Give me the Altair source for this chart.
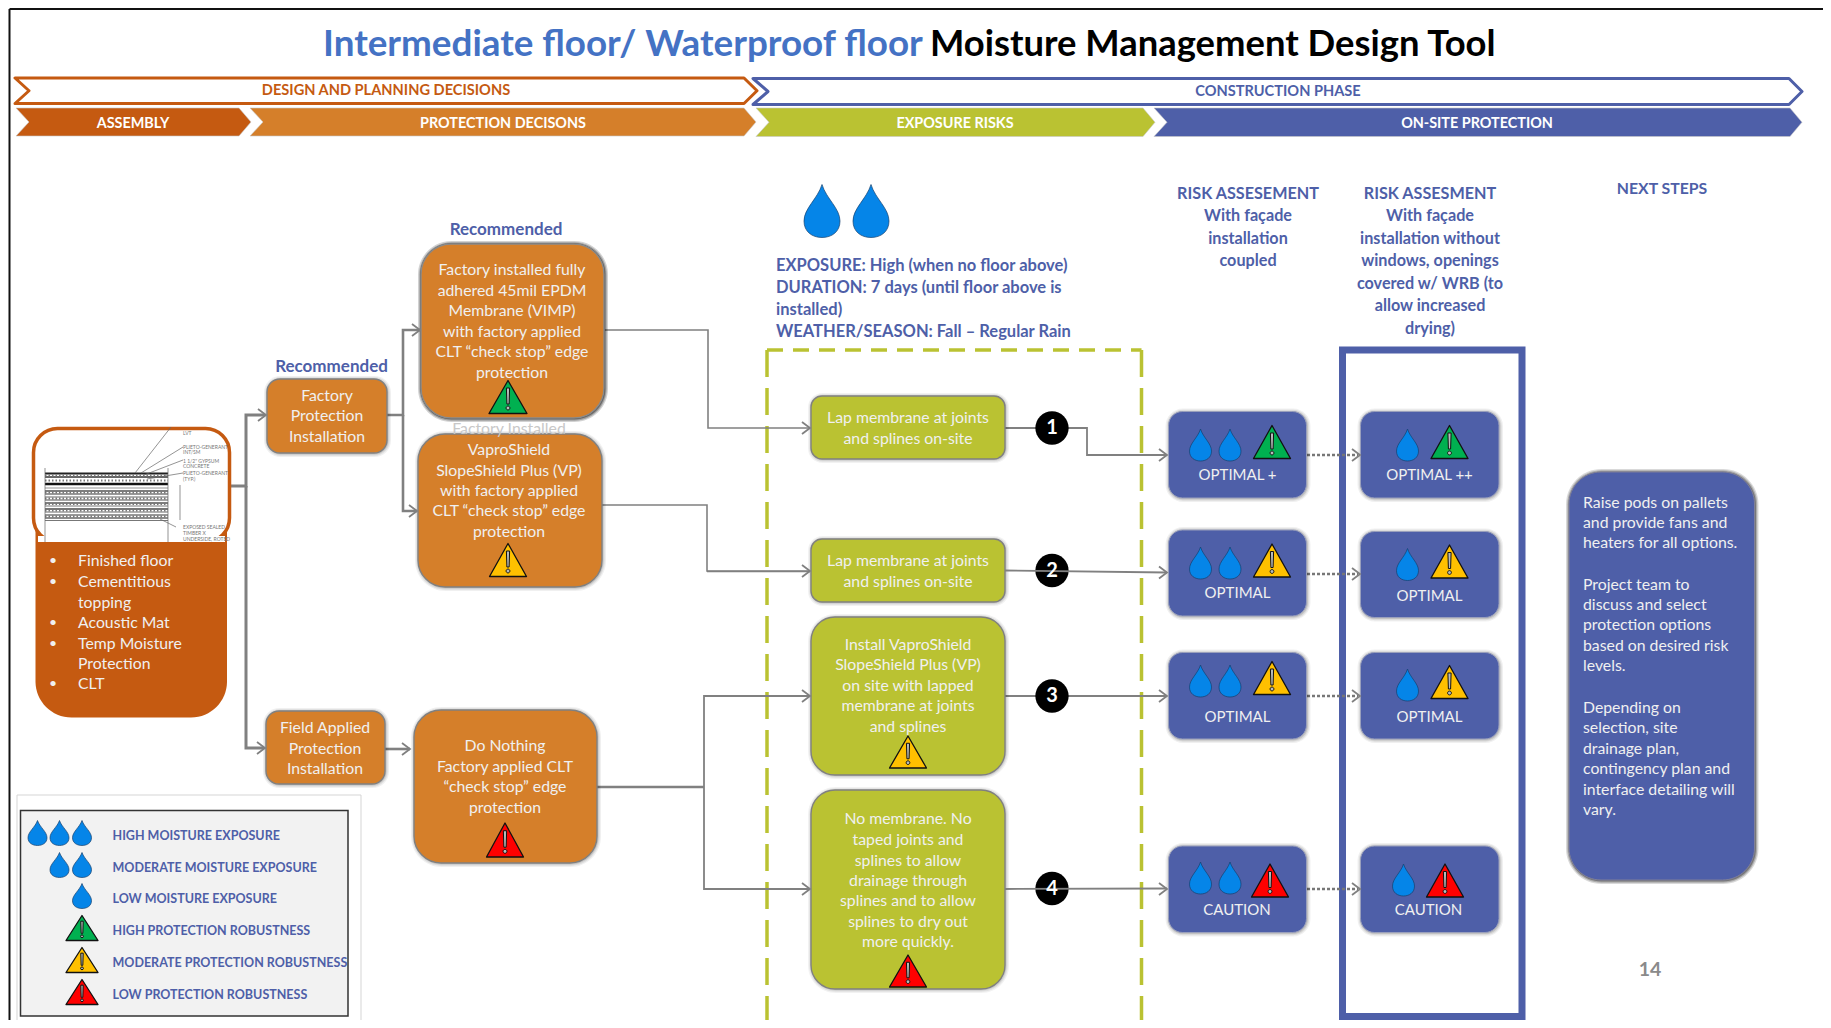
import altair as alt

# ---------- palette ----------
RUST = "#C55A11"; ORANGE = "#D57F2A"; LIME = "#BAC232"; NAVY = "#4E5FA8"; GREY = "#808080"
DROP = "#0585E8"; TXT = "#F0F0F0"; BLUE_TITLE = "#4472C4"
TRI_GREEN = "#00B050"; TRI_YELLOW = "#FFC000"; TRI_RED = "#FF0000"

# ---------- chevrons: left, right, top, bottom, notch, fill, stroke ----------
CHEVRONS_OUTLINE = [(15, 757, 78, 103.5, 14, RUST), (753, 1802, 78.5, 104.5, 15, NAVY)]
CHEVRONS_SOLID = [
    (16, 251, 108, 136, 13, RUST), (250, 756, 108, 136, 13, ORANGE),
    (756, 1155, 108, 136.5, 13, LIME), (1154, 1802, 108, 136.5, 13, NAVY)]

# ---------- rounded boxes: x, x2, y, y2, radius, fill ----------
BOX_ORANGE = [
    (421, 604, 244, 418, 30), (267, 387, 379, 453, 13), (418, 602, 434, 587, 27),
    (266, 385, 711, 784, 13), (414, 597, 710, 863, 27)]
BOX_LIME = [
    (811, 1005, 396, 459, 11), (811, 1005, 539, 602, 11),
    (811, 1005, 617, 775, 24), (811, 1005, 790, 989, 24)]
BOX_RISK = [
    (1168.5, 1306.5, 411.5, 498, 14), (1168.5, 1306.5, 530, 616, 14),
    (1168.5, 1306.5, 652.5, 739, 14), (1168.5, 1306.5, 846, 932.5, 14),
    (1360.5, 1499, 411.5, 498, 14), (1360.5, 1499, 531.5, 617.5, 14),
    (1360.5, 1499, 652.5, 739, 14), (1360.5, 1499, 846, 932.5, 14)]
BOX_NEXT = (1569, 1754.5, 472, 880, 32)
BOX_ASSEMBLY = (35.5, 227, 440, 717.5, 36)
BOX_PICTURE = (33.5, 229.5, 428.5, 542, 24)
FRAME_RISK = (1342.5, 1522, 350, 1016.5)
LEGEND_OUTER = (17, 361, 795, 1024.5)
LEGEND_INNER = (20.5, 348, 810.5, 1016)

# ---------- connectors ----------
ELBOWS = [
    ([231, 246, 246, 265], [486, 486, 415, 415], 3),
    ([246, 246, 264], [486, 748, 748], 3),
    ([387, 403, 403, 420], [415, 415, 330, 330], 2.6),
    ([403, 403, 417], [415, 511, 511], 2.6),
    ([385, 410], [749, 749], 2.6),
    ([604, 708, 708, 810], [330, 330, 428, 428], 1.6),
    ([602, 707, 707, 810], [505, 505, 571, 571], 1.6),
    ([707, 810], [571.5, 571.5], 1.6),
    ([597, 704], [787, 787], 2.6),
    ([810, 704, 704, 810], [696, 696, 889, 889], 1.8),
    ([1005, 1087, 1087, 1167], [428, 428, 455, 455], 1.8),
    ([1005, 1167], [696, 696], 1.8)]
OVER_LINES = [([1005, 1167], [570.5, 572.5], 1.8), ([1005, 1167], [889, 888.5], 1.8)]
ARROWS = [(266, 415), (265, 748), (420, 330), (417, 511), (410, 749), (810, 428), (810, 571),
          (810, 696), (810, 889), (1167, 455), (1167, 572.5), (1167, 696), (1167, 889),
          (1360, 455), (1360, 574), (1360, 696), (1360, 889)]
DASHED = [(1307, 1358, 455), (1307, 1358, 574), (1307, 1358, 696), (1307, 1358, 889)]
CIRCLE_X = 1052
CIRCLE_Y = [428, 570.5, 696, 888.5]
CIRCLE_T = ["1", "2", "3", "4"]

# ---------- drop & triangle glyphs: cx, cy, w, h ----------
DROPS = [(822, 211, 36, 53), (871, 211, 36, 53),
         (1200.5, 445, 22, 32), (1230, 445, 22, 32), (1200.5, 563, 22, 32), (1230, 563, 22, 32),
         (1200.5, 681, 22, 32), (1230, 681, 22, 32), (1200.5, 878, 22, 32), (1230, 878, 22, 32),
         (1407.5, 445, 22, 32), (1407.5, 564.5, 22, 32), (1407.5, 685, 22, 32), (1403.5, 880, 22, 32),
         (37.5, 833, 19, 25), (59.5, 833, 19, 25), (82, 833, 19, 25),
         (59.5, 865, 19, 25), (82, 865, 19, 25), (82, 896, 19, 25)]
TRIANGLES = [
    (508, 397, 38, 33, TRI_GREEN), (508, 560, 37, 33, TRI_YELLOW), (505, 840, 37, 34, TRI_RED),
    (908, 752, 37, 32, TRI_YELLOW), (908, 971, 37, 32, TRI_RED),
    (1272, 442, 37, 33, TRI_GREEN), (1272, 560.5, 37, 33, TRI_YELLOW),
    (1272, 678, 37, 33, TRI_YELLOW), (1270, 880.5, 37, 33, TRI_RED),
    (1449.5, 442, 37, 33, TRI_GREEN), (1449.5, 561.5, 37, 33, TRI_YELLOW),
    (1449.5, 682, 37, 33, TRI_YELLOW), (1445, 880.5, 37, 33, TRI_RED),
    (82, 928, 32, 25, TRI_GREEN), (82, 960, 32, 25, TRI_YELLOW), (82, 992, 32, 25, TRI_RED)]

# ---------- drawing of the floor assembly ----------
SECTION_X = (45, 168)
SECTION_RULES = [(473.5, 2.2, "#222222"), (477, 1.6, "#333333"), (484, 2.6, "#111111"),
                 (488, .8, "#777777"), (491, 1.6, "#555555"), (494, 1.6, "#777777"), (497, 1, "#666666"),
                 (500, 1.6, "#888888"), (503, 1.6, "#555555"), (506, 1, "#777777"), (509, 1.8, "#777777"),
                 (512, 1.2, "#666666"), (515, 1.4, "#777777"), (518, 1.4, "#666666"), (520.5, 1.2, "#777777")]
SECTION_HATCH = [475.5, 480.5, 492.5, 498.5, 504, 510.5, 516.5]
SECTION_LEADS = [([135, 171], [473, 427]), ([141, 183], [473, 447]), ([144, 183], [475, 460]),
                 ([147, 183], [479, 473]), ([160, 176], [519, 527]), ([45, 45], [468, 542]),
                 ([168, 168], [468, 542]), ([180, 180], [485, 520])]
SECTION_NOTES = [(183, 433, "LVT"), (183, 447, "PLIETO-GENERANT"), (183, 452, "INT/SM"),
                 (183, 461, "1 1/2\" GYPSUM"), (183, 466, "CONCRETE"),
                 (183, 473, "PLIETO-GENERANT"), (183, 479, "(TYP.)"),
                 (183, 527, "EXPOSED SEALED"), (183, 533, "TIMBER X"), (183, 539, "UNDERSIDE, ROTED")]

# ---------- text blocks: x, ys, lines, size, colour ----------
F_BODY = 15.8
F_LABEL = 15
F_HEAD = 16.2
CENTER_NORMAL = [
    (512, [270, 291, 311, 332, 352, 373],
     ["Factory installed fully", "adhered 45mil EPDM", "Membrane (VIMP)", "with factory applied",
      "CLT “check stop” edge", "protection"], F_BODY, TXT),
    (327, [396, 416, 437], ["Factory", "Protection", "Installation"], F_BODY, TXT),
    (509, [429], ["Factory Installed"], F_BODY, "#C8C8C8"),
    (509, [450, 470.5, 491, 511, 532],
     ["VaproShield", "SlopeShield Plus (VP)", "with factory applied", "CLT “check stop” edge", "protection"], F_BODY, TXT),
    (325, [727.5, 748.5, 769], ["Field Applied", "Protection", "Installation"], F_BODY, TXT),
    (505, [745.5, 766.5, 787, 807.5],
     ["Do Nothing", "Factory applied CLT", "“check stop” edge", "protection"], F_BODY, TXT),
    (908, [418, 438.5], ["Lap membrane at joints", "and splines on-site"], F_BODY, TXT),
    (908, [561, 582], ["Lap membrane at joints", "and splines on-site"], F_BODY, TXT),
    (908, [644.5, 665, 686, 706, 727],
     ["Install VaproShield", "SlopeShield Plus (VP)", "on site with lapped", "membrane at joints", "and splines"], F_BODY, TXT),
    (908, [819, 840, 860.5, 880.5, 901, 922, 942],
     ["No membrane. No", "taped joints and", "splines to allow", "drainage through", "splines and to allow",
      "splines to dry out", "more quickly."], F_BODY, TXT),
    (1237.5, [475], ["OPTIMAL +"], F_LABEL, TXT), (1237.5, [593], ["OPTIMAL"], F_LABEL, TXT),
    (1237.5, [716.5], ["OPTIMAL"], F_LABEL, TXT), (1237, [909.5], ["CAUTION"], F_LABEL, TXT),
    (1429.5, [475], ["OPTIMAL ++"], F_LABEL, TXT), (1429.5, [595.5], ["OPTIMAL"], F_LABEL, TXT),
    (1429.5, [716.5], ["OPTIMAL"], F_LABEL, TXT), (1428.5, [909.5], ["CAUTION"], F_LABEL, TXT),
]
CENTER_BOLD = [
    (386, [91], ["DESIGN AND PLANNING DECISIONS"], 14.6, RUST),
    (1278, [92], ["CONSTRUCTION PHASE"], 14.6, NAVY),
    (133, [123.5], ["ASSEMBLY"], 14.4, "#FFFFFF"), (503, [123.5], ["PROTECTION DECISONS"], 14.4, "#FFFFFF"),
    (955, [123.5], ["EXPOSURE RISKS"], 14.4, "#FFFFFF"), (1477, [123.5], ["ON-SITE PROTECTION"], 14.4, "#FFFFFF"),
    (506, [230], ["Recommended"], 17, NAVY), (331.5, [367], ["Recommended"], 17, NAVY),
    (1248, [193.5, 215.5, 238.5, 261], ["RISK ASSESEMENT", "With façade", "installation", "coupled"], F_HEAD, NAVY),
    (1430, [193.5, 215.5, 238.5, 261, 284, 306, 329],
     ["RISK ASSESMENT", "With façade", "installation without", "windows, openings",
      "covered w/ WRB (to", "allow increased", "drying)"], F_HEAD, NAVY),
    (1662, [189], ["NEXT STEPS"], 15.8, NAVY),
    (1650, [970], ["14"], 19.5, "#8A8A8A"),
]
LEFT_BOLD = [
    (776, [266, 288, 310, 332],
     ["EXPOSURE: High (when no floor above)", "DURATION: 7 days (until floor above is", "installed)",
      "WEATHER/SEASON: Fall – Regular Rain"], 16.5, NAVY),
    (112.5, [836, 868, 899, 931, 963, 995],
     ["HIGH MOISTURE EXPOSURE", "MODERATE MOISTURE EXPOSURE", "LOW MOISTURE EXPOSURE",
      "HIGH PROTECTION ROBUSTNESS", "MODERATE PROTECTION ROBUSTNESS", "LOW PROTECTION ROBUSTNESS"], 12.5, NAVY),
]
LEFT_NORMAL = [
    (78, [561, 582, 603, 623, 643.5, 664, 684],
     ["Finished floor", "Cementitious", "topping", "Acoustic Mat", "Temp Moisture", "Protection", "CLT"], F_BODY, TXT),
    (1583, [502.5, 522.5, 543, 584.5, 604.5, 625, 646, 666, 707.5, 728, 748.5, 769, 789.5, 810],
     ["Raise pods on pallets", "and provide fans and", "heaters for all options.",
      "Project team to", "discuss and select", "protection options", "based on desired risk", "levels.",
      "Depending on", "selection, site", "drainage plan,", "contingency plan and", "interface detailing will", "vary."], F_BODY, TXT),
]
BULLET_X = 53
BULLET_Y = [561, 582, 623, 643.5, 684]
TITLE_A = "Intermediate floor/ Waterproof floor"
TITLE_B = "Moisture Management Design Tool"

# ---------- helpers ----------
W, H = 1815, 1012
XS = alt.Scale(domain=[8, 1823])
YS = alt.Scale(domain=[1020, 8])
FONT = "Lato"
X = alt.X("x:Q", scale=XS, axis=None)
Y = alt.Y("y:Q", scale=YS, axis=None)
X2 = alt.X2("x2:Q")
Y2 = alt.Y2("y2:Q")


def rects(rows, radius=0):
    """rows: dict(x, x2, y, y2, fill, stroke, sw, op)"""
    return alt.Chart(alt.Data(values=rows)).mark_rect(cornerRadius=radius).encode(
        x=X, x2=X2, y=Y, y2=Y2,
        fill=alt.Fill("fill:N", scale=None), stroke=alt.Stroke("stroke:N", scale=None),
        strokeWidth=alt.StrokeWidth("sw:Q", scale=None), opacity=alt.Opacity("op:Q", scale=None))


def box(b, fill, stroke="transparent", sw=0, op=1.0, grow=0.0, dx=0.0, dy=0.0):
    return dict(x=b[0] - grow + dx, x2=b[1] + grow + dx, y=b[2] - grow + dy, y2=b[3] + grow + dy,
                fill=fill, stroke=stroke, sw=sw, op=op)


def rounded(bs, fill, stroke, sw, shadow=0.0):
    out = []
    for b in bs:
        if shadow:
            for g, o in ((3.5, .10), (2.2, .14), (1, .2)):
                out.append(rects([box(b, "#000000", op=o * shadow, grow=g, dx=.5, dy=.5)], b[4] + g))
        out.append(rects([box(b, fill, stroke, sw)], b[4]))
    return out


def glyphs(rows):
    """rows: dict(x, y, path, fill, stroke, sw)"""
    return alt.Chart(alt.Data(values=rows)).mark_point(filled=True, opacity=1, strokeJoin="round").encode(
        x=X, y=Y, shape=alt.Shape("path:N", scale=None), size=alt.value(4),
        fill=alt.Fill("fill:N", scale=None), stroke=alt.Stroke("stroke:N", scale=None),
        strokeWidth=alt.StrokeWidth("sw:Q", scale=None))


def chevron_path(w, h, n, tip):
    return f"M{-w/2},{-h/2} L{w/2-tip},{-h/2} L{w/2},0 L{w/2-tip},{h/2} L{-w/2},{h/2} L{-w/2+n},0 Z"


def drop_path(w, h):
    a, b = w / 2, h / 2
    return (f"M0,{-b} C{a*.25},{-b*.45} {a},{-b*.1} {a},{b*.38} C{a},{b*.78} {a*.55},{b} 0,{b} "
            f"C{-a*.55},{b} {-a},{b*.78} {-a},{b*.38} C{-a},{-b*.1} {-a*.25},{-b*.45} 0,{-b} Z")


def tri_path(w, h):
    return f"M0,{-h/2} L{w/2},{h/2} L{-w/2},{h/2} Z"


def bang_path(h):
    u = h / 33
    return (f"M{-1.6*u},{-9*u} L{1.6*u},{-9*u} L{1.1*u},{7*u} L{-1.1*u},{7*u} Z "
            f"M{1.9*u},{11*u} A{1.9*u},{1.9*u} 0 1 1 {-1.9*u},{11*u} A{1.9*u},{1.9*u} 0 1 1 {1.9*u},{11*u} Z")


def polylines(items, dash=None, color=GREY):
    rows = []
    for i, (xs, ys, sw) in enumerate(items):
        for j, (a, b) in enumerate(zip(xs, ys)):
            rows.append(dict(x=a, y=b, id=i, k=j, sw=sw))
    kw = dict(strokeCap="butt", strokeJoin="miter", color=color)
    if dash:
        kw["strokeDash"] = dash
    return alt.Chart(alt.Data(values=rows)).mark_line(**kw).encode(
        x=X, y=Y, detail="id:N", order="k:Q", strokeWidth=alt.StrokeWidth("sw:Q", scale=None))


def texts(rows, weight="normal", align="center", **kw):
    """rows: dict(x, y, t, s, c)"""
    return alt.Chart(alt.Data(values=rows)).mark_text(
        font=FONT, fontWeight=weight, align=align, baseline="middle", **kw).encode(
        x=X, y=Y, text="t:N", size=alt.Size("s:Q", scale=None), color=alt.Color("c:N", scale=None))


def explode(blocks):
    return [dict(x=x, y=y, t=t, s=s, c=c) for x, ys, ls, s, c in blocks for y, t in zip(ys, ls)]


layers = []

# page frame
layers.append(polylines([([9.5, 9.5], [1020, 9], 2), ([9.5, 1823], [9, 9], 2)], color="#111111"))

# title
layers.append(texts([dict(x=323, y=45, t=TITLE_A, s=36.8, c=BLUE_TITLE),
                     dict(x=930, y=45, t=TITLE_B, s=36.4, c="#000000")], "bold", "left"))

# chevrons
chev = []
for l, r, t, b, n, c in CHEVRONS_OUTLINE:
    chev.append(dict(x=(l + r) / 2, y=(t + b) / 2, path=chevron_path(r - l, b - t, n, 13), fill="#FFFFFF", stroke=c, sw=3))
for l, r, t, b, n, c in CHEVRONS_SOLID:
    chev.append(dict(x=(l + r) / 2, y=(t + b) / 2, path=chevron_path(r - l, b - t, n, 12), fill=c, stroke="#C8C8C8", sw=.6))
layers.append(glyphs(chev))

# dashed olive frame
layers.append(polylines([([767, 1141.5], [350, 350], 3.5)], dash=[16, 10], color=LIME))
layers.append(polylines([([767, 767], [350, 1020], 3.5), ([1141.5, 1141.5], [350, 1020], 3.5)], dash=[27, 11], color=LIME))

# blue frame
layers.append(rects([dict(x=FRAME_RISK[0], x2=FRAME_RISK[1], y=FRAME_RISK[2], y2=FRAME_RISK[3],
                          fill="#FFFFFF", stroke=NAVY, sw=7, op=1)]))

# connectors below boxes
layers.append(polylines(ELBOWS))
layers.append(polylines([([a, b], [y, y], 2.4) for a, b, y in DASHED], dash=[3, 2], color="#777777"))

# assembly box and picture
layers += rounded([BOX_ASSEMBLY], RUST, "transparent", 0)
layers.append(rects([box(BOX_PICTURE, "#FFFFFF", RUST, 3.5)], BOX_PICTURE[4]))
layers.append(rects([dict(x=38, x2=225, y=536, y2=542, fill="#FFFFFF", stroke="transparent", sw=0, op=1)]))

sec = [dict(x=SECTION_X[0], x2=SECTION_X[1], y=y, w=w, c=c) for y, w, c in SECTION_RULES]
layers.append(alt.Chart(alt.Data(values=sec)).mark_rule().encode(
    x=X, x2=X2, y=Y, strokeWidth=alt.StrokeWidth("w:Q", scale=None), color=alt.Color("c:N", scale=None)))
layers.append(alt.Chart(alt.Data(values=[dict(x=SECTION_X[0], x2=SECTION_X[1], y=y) for y in SECTION_HATCH])).mark_rule(
    strokeWidth=2.2, strokeDash=[1.5, 2], color="#777777").encode(x=X, x2=X2, y=Y))
layers.append(polylines([(a, b, .7) for a, b in SECTION_LEADS], color="#666666"))
layers.append(texts([dict(x=x, y=y, t=t, s=5, c="#777777") for x, y, t in SECTION_NOTES], align="left"))

# boxes
layers += rounded(BOX_ORANGE, ORANGE, GREY, 1.4, shadow=.6)
layers += rounded([BOX_ORANGE[0]], ORANGE, "#8A8A8A", 1.4, shadow=1.2)
layers += rounded(BOX_LIME, LIME, GREY, 1.4, shadow=.5)
layers += rounded(BOX_RISK, NAVY, "#9AA0BC", 1, shadow=.6)
layers += rounded([BOX_NEXT], NAVY, "#7F7F9A", 1, shadow=1.5)

# legend
layers.append(rects([box(LEGEND_OUTER, "#FFFFFF", "#D5D5D5", 1)]))
layers.append(rects([box(LEGEND_INNER, "#F2F2F2", "#333333", 1.5)]))

# arrowheads
layers.append(alt.Chart(alt.Data(values=[dict(x=x, y=y) for x, y in ARROWS])).mark_point(
    shape="M-8,-6 L0,0 L-8,6", size=4, stroke=GREY, strokeWidth=1.8, fill="transparent", opacity=1, filled=False
).encode(x=X, y=Y))

# numbered circles
layers.append(alt.Chart(alt.Data(values=[dict(x=CIRCLE_X, y=y) for y in CIRCLE_Y])).mark_point(
    shape="circle", size=1110, filled=True, color="#000000", opacity=1).encode(x=X, y=Y))
layers.append(polylines(OVER_LINES))
layers.append(texts([dict(x=CIRCLE_X, y=y, t=t, s=20, c="#FFFFFF") for y, t in zip(CIRCLE_Y, CIRCLE_T)], "bold"))

# drops, triangles
layers.append(glyphs([dict(x=x, y=y, path=drop_path(w, h), fill=DROP, stroke="#15406F", sw=.7) for x, y, w, h in DROPS]))
layers.append(glyphs([dict(x=x, y=y, path=tri_path(w, h), fill=c, stroke="#111111", sw=1.3) for x, y, w, h, c in TRIANGLES]))
layers.append(glyphs([dict(x=x, y=y, path=bang_path(h), fill="#B8BCBC", stroke="#111111", sw=1) for x, y, w, h, c in TRIANGLES]))

# text
layers.append(texts(explode(CENTER_NORMAL)))
layers.append(texts(explode(CENTER_BOLD), "bold"))
layers.append(texts(explode(LEFT_NORMAL), align="left"))
layers.append(texts(explode(LEFT_BOLD), "bold", "left"))
layers.append(texts([dict(x=BULLET_X, y=y, t="•", s=14, c=TXT) for y in BULLET_Y]))

chart = alt.layer(*layers).properties(
    width=W, height=H, padding=0, autosize="none", background="#FFFFFF"
).configure_view(stroke=None)

chart.save("out.html", embed_options={"renderer": "svg", "actions": False})
